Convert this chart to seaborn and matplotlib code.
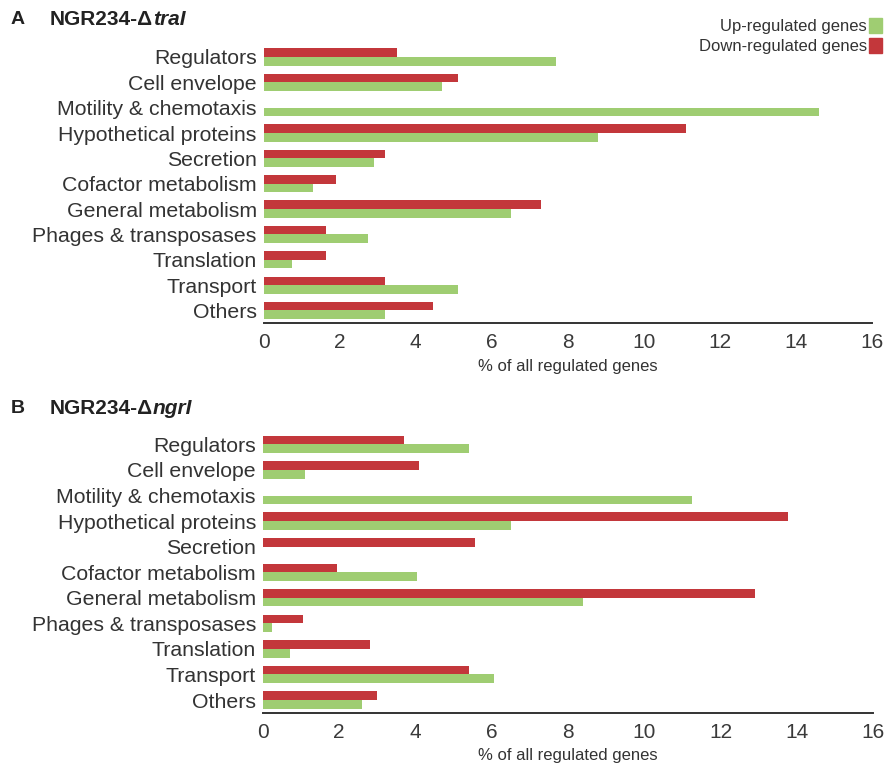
import matplotlib.pyplot as plt
import numpy as np
import pandas as pd
import seaborn as sns
from matplotlib.patches import Patch

# Données (% de tous les gènes régulés)
categories = [
    "Regulators",
    "Cell envelope",
    "Motility & chemotaxis",
    "Hypothetical proteins",
    "Secretion",
    "Cofactor metabolism",
    "General metabolism",
    "Phages & transposases",
    "Translation",
    "Transport",
    "Others",
]
down_tral = [3.5, 5.1, 0.0, 11.1, 3.2, 1.9, 7.3, 1.65, 1.65, 3.2, 4.45]
up_tral = [7.7, 4.7, 14.6, 8.8, 2.9, 1.3, 6.5, 2.75, 0.75, 5.1, 3.2]
down_ngrl = [3.7, 4.1, 0.0, 13.75, 5.55, 1.95, 12.9, 1.05, 2.8, 5.4, 3.0]
up_ngrl = [5.4, 1.1, 11.25, 6.5, 0.0, 4.05, 8.4, 0.25, 0.7, 6.05, 2.6]

x_ticks = [0, 2, 4, 6, 8, 10, 12, 14, 16]

red = "#c3373b"
green = "#9fcd72"
palette = {"Down-regulated genes": red, "Up-regulated genes": green}


def make_df(down, up):
    d = pd.DataFrame({"category": categories, "value": down, "regulation": "Down-regulated genes"})
    u = pd.DataFrame({"category": categories, "value": up, "regulation": "Up-regulated genes"})
    return pd.concat([d, u], ignore_index=True)


sns.set_style("white")
plt.rcParams["font.family"] = ["Liberation Sans", "DejaVu Sans"]

fig = plt.figure(figsize=(8.85, 7.64), dpi=100)
ax_a = fig.add_axes([0.298, 0.577, 0.687, 0.365])
ax_b = fig.add_axes([0.297, 0.067, 0.690, 0.368])

for ax, down, up in [(ax_a, down_tral, up_tral), (ax_b, down_ngrl, up_ngrl)]:
    sns.barplot(
        data=make_df(down, up),
        y="category",
        x="value",
        hue="regulation",
        hue_order=["Down-regulated genes", "Up-regulated genes"],
        palette=palette,
        orient="h",
        width=0.68,
        saturation=1,
        linewidth=0,
        errorbar=None,
        legend=False,
        ax=ax,
    )
    ax.set_xlim(0, 16)
    ax.set_ylim(10.5, -0.5)
    ax.set_xticks(x_ticks)
    ax.set_xticklabels([str(t) for t in x_ticks], fontsize=15, color="#3a3a3a")
    ax.set_yticks(range(len(categories)))
    ax.set_yticklabels(categories, fontsize=15.3, color="#333333")
    ax.tick_params(axis="y", length=0, pad=5)
    ax.tick_params(axis="x", direction="inout", length=6, width=1.2, color="#333333", pad=4)
    ax.set_ylabel("")
    ax.set_xlabel("% of all regulated genes", fontsize=12, color="#333333", labelpad=5)
    for side in ["top", "right", "left"]:
        ax.spines[side].set_visible(False)
    ax.spines["bottom"].set_color("#333333")
    ax.spines["bottom"].set_linewidth(1.4)

# Titres des panneaux
for letter, gene, y in [("A", "traI", 0.975), ("B", "ngrI", 0.465)]:
    fig.text(0.012, y, letter, fontsize=14, fontweight="bold", color="#222222", va="center")
    t = fig.text(0.056, y, "NGR234-Δ", fontsize=15, fontweight="bold", color="#222222", va="center")
    fig.canvas.draw()
    bb = t.get_window_extent()
    fig.text(bb.x1 / fig.bbox.width, y, gene, fontsize=15, fontweight="bold", style="italic",
             color="#222222", va="center")

handles = [Patch(color=green, label="Up-regulated genes"), Patch(color=red, label="Down-regulated genes")]
fig.legend(
    handles=handles,
    loc="upper right",
    bbox_to_anchor=(1.004, 0.985),
    frameon=False,
    markerfirst=False,
    fontsize=12,
    handlelength=0.8,
    handleheight=1.0,
    handletextpad=0.1,
    labelspacing=0.2,
    borderaxespad=0,
    labelcolor="#333333",
)

plt.savefig("out.png", dpi=100)
plt.close()
